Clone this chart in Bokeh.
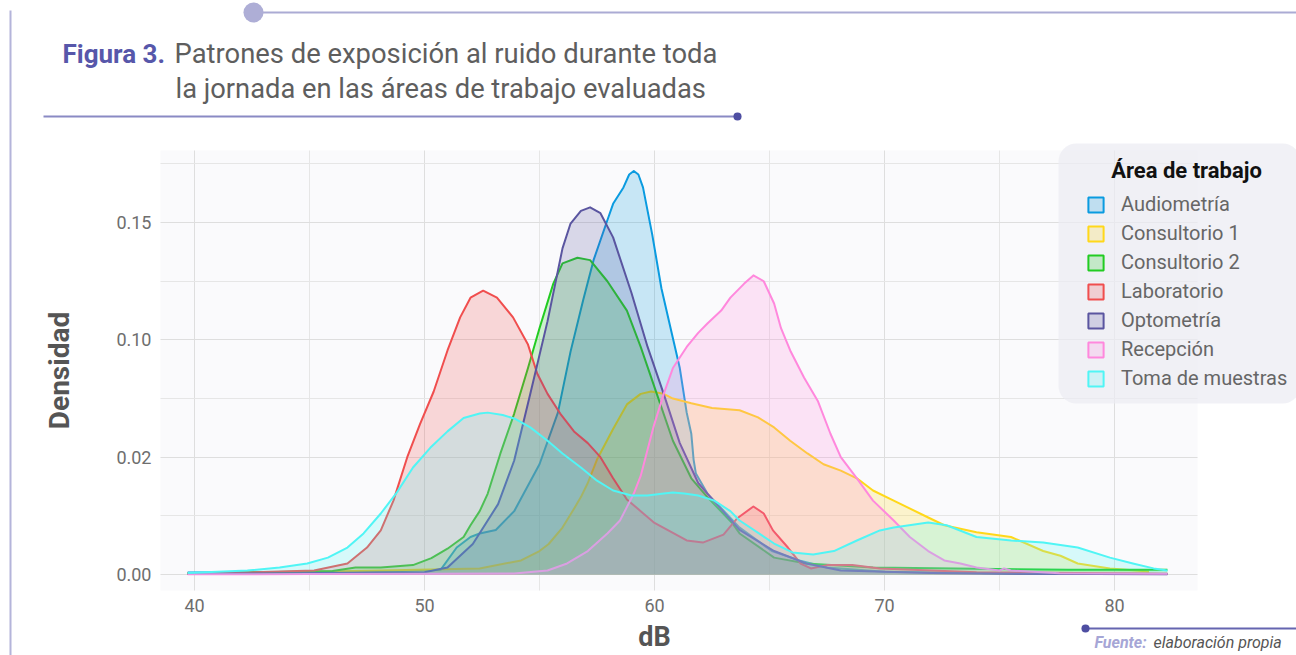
from bokeh.plotting import figure
from bokeh.models import (Range1d, FixedTicker, Legend, LegendItem, Label, Arrow,
                          ColumnDataSource, BoxAnnotation)
from bokeh.embed import file_html
from bokeh.resources import INLINE

# ---------------- data ----------------
areas = ["Audiometría", "Consultorio 1", "Consultorio 2", "Laboratorio",
         "Optometría", "Recepción", "Toma de muestras"]
line_colors = ["#0A9BE0", "#FFD81A", "#22CC22", "#F04E4E", "#5A55A0", "#FF88DD", "#50F5F5"]

audiometria_db = [39.7, 43.0, 46.0, 49.0, 50.7, 51.4, 52.0, 52.4, 53.1, 53.9, 55.0, 55.8, 56.35,
                  56.9, 57.35, 57.95, 58.2, 58.65, 58.9, 59.1, 59.3, 59.5, 59.9, 60.3, 60.7, 61.1,
                  61.4, 61.6, 61.7, 61.8, 62.3, 63.7, 65.1, 66.3, 67.5, 70.0, 75.0, 82.3]
audiometria_dens = [0.0008, 0.001, 0.0012, 0.0015, 0.002, 0.0115, 0.016, 0.0175, 0.019, 0.027,
                    0.047, 0.069, 0.095, 0.117, 0.134, 0.151, 0.158, 0.165, 0.1705, 0.172, 0.1705,
                    0.165, 0.145, 0.122, 0.105, 0.088, 0.069, 0.060, 0.049, 0.043, 0.0345, 0.020,
                    0.010, 0.006, 0.003, 0.0012, 0.0005, 0.0002]

consultorio1_db = [39.7, 44, 48.1, 52.4, 54.2, 55.0, 55.4, 56.0, 56.5, 56.8, 57.1, 57.5, 58.2, 58.8,
                   59.4, 59.85, 60.4, 60.8, 61.6, 62.5, 63.7, 64.5, 65.2, 65.9, 66.65, 67.35, 68.1,
                   68.8, 69.5, 70.4, 71.9, 72.6, 74.0, 75.5, 76.9, 77.65, 78.4, 79.8, 81.5]
consultorio1_dens = [0.0005, 0.001, 0.0017, 0.0026, 0.006, 0.010, 0.013, 0.020, 0.028, 0.033, 0.039,
                     0.049, 0.062, 0.0725, 0.077, 0.078, 0.077, 0.075, 0.073, 0.071, 0.070, 0.067,
                     0.0627, 0.057, 0.0516, 0.047, 0.0443, 0.041, 0.0358, 0.0315, 0.0243, 0.021,
                     0.018, 0.016, 0.010, 0.008, 0.0047, 0.0026, 0.0013]

consultorio2_db = [39.7, 43, 46, 47.0, 48.1, 49.5, 50.3, 51.0, 51.7, 52.0, 52.4, 52.75, 53.3, 53.9,
                   54.5, 55.0, 55.6, 56.0, 56.65, 57.2, 57.95, 58.8, 59.4, 60.1, 60.8, 61.6, 62.3,
                   63.4, 63.7, 65.2, 66.6, 69.5, 74, 78, 82.3]
consultorio2_dens = [0.0005, 0.001, 0.0015, 0.003, 0.003, 0.004, 0.007, 0.011, 0.016, 0.021, 0.027,
                     0.0345, 0.0516, 0.0686, 0.088, 0.105, 0.124, 0.1326, 0.135, 0.134, 0.125,
                     0.1125, 0.097, 0.077, 0.057, 0.041, 0.033, 0.0217, 0.0175, 0.0072, 0.0047,
                     0.003, 0.0025, 0.002, 0.002]

laboratorio_db = [39.7, 42, 45.2, 46.65, 47.5, 48.1, 48.65, 49.25, 49.8, 50.4, 51.0, 51.55, 52.0,
                  52.55, 53.15, 53.85, 54.5, 54.9, 55.35, 55.9, 56.5, 57.1, 57.65, 58.2, 58.8, 59.4,
                  60.0, 60.6, 61.4, 62.1, 63.0, 63.6, 64.3, 64.75, 65.15, 65.8, 66.35, 66.8, 67.5,
                  68.6, 69.8, 74, 82.3]
laboratorio_dens = [0.0003, 0.0008, 0.0017, 0.0047, 0.0115, 0.0188, 0.0315, 0.050, 0.064, 0.078,
                    0.0955, 0.1096, 0.118, 0.121, 0.118, 0.1096, 0.098, 0.0857, 0.077, 0.0686,
                    0.061, 0.056, 0.050, 0.041, 0.032, 0.027, 0.022, 0.0188, 0.0145, 0.0136, 0.017,
                    0.024, 0.029, 0.026, 0.0188, 0.0115, 0.0047, 0.0026, 0.004, 0.004, 0.0026,
                    0.001, 0.0003]

optometria_db = [39.7, 44, 48, 50, 51.0, 52.1, 53.2, 53.9, 54.6, 55.35, 56.0, 56.35, 56.8, 57.2,
                 57.65, 58.2, 59.0, 59.7, 60.4, 61.1, 61.9, 62.3, 63.7, 65.2, 66.6, 68.1, 72, 76,
                 82.3]
optometria_dens = [0.0003, 0.0005, 0.0008, 0.001, 0.003, 0.013, 0.030, 0.0486, 0.077, 0.108,
                   0.139, 0.1496, 0.155, 0.1565, 0.154, 0.1437, 0.120, 0.097, 0.077, 0.056, 0.039,
                   0.0345, 0.019, 0.010, 0.0047, 0.0017, 0.0006, 0.0003, 0.0001]

recepcion_db = [39.7, 45, 50, 53.9, 55.35, 56.2, 57.1, 57.95, 58.5, 59.1, 59.4, 59.95, 60.4, 60.8,
                61.4, 61.9, 62.3, 62.9, 63.3, 63.9, 64.3, 64.75, 65.2, 65.5, 65.9, 66.5, 67.1,
                67.65, 68.1, 68.8, 69.5, 70.4, 71.1, 71.9, 72.6, 73.3, 74.0, 75.0, 75.2, 75.5,
                77.6, 82.3]
recepcion_dens = [0.0001, 0.0002, 0.0003, 0.0004, 0.0017, 0.0047, 0.010, 0.0175, 0.023, 0.0345,
                  0.042, 0.0627, 0.077, 0.088, 0.097, 0.103, 0.107, 0.1125, 0.118, 0.124, 0.1275,
                  0.125, 0.1155, 0.105, 0.0955, 0.084, 0.074, 0.060, 0.050, 0.041, 0.0315, 0.023,
                  0.016, 0.010, 0.006, 0.0047, 0.003, 0.0017, 0.0026, 0.0017, 0.0005, 0.0003]

toma_db = [39.7, 42.3, 43.7, 44.9, 45.8, 46.65, 47.35, 48.1, 48.8, 49.5, 50.25, 51.0, 51.7, 52.4,
           52.75, 53.4, 53.9, 54.6, 55.35, 56.0, 56.8, 57.5, 58.2, 59.0, 59.7, 60.4, 60.8, 61.3,
           61.9, 62.6, 63.3, 63.7, 65.2, 66.0, 66.9, 67.8, 68.8, 69.8, 70.4, 71.9, 72.7, 74.0,
           75.5, 76.9, 78.4, 79.8, 80.8, 81.7, 82.3]
toma_dens = [0.0006, 0.0017, 0.003, 0.0047, 0.0072, 0.0115, 0.0175, 0.026, 0.035, 0.0456, 0.054,
             0.061, 0.0667, 0.0686, 0.069, 0.068, 0.0665, 0.0627, 0.057, 0.0516, 0.0456, 0.040,
             0.0358, 0.0337, 0.0337, 0.0345, 0.035, 0.0345, 0.0337, 0.0315, 0.027, 0.023, 0.0132,
             0.0094, 0.0085, 0.010, 0.0145, 0.0188, 0.020, 0.0222, 0.021, 0.016, 0.0145, 0.0136,
             0.0115, 0.0072, 0.0047, 0.0026, 0.0017]

x_ticks = [40, 50, 60, 70, 80]
x_minor = [45, 55, 65, 75]
y_ticks = [0.0, 0.05, 0.10, 0.15]
y_tick_labels = ["0.00", "0.02", "0.10", "0.15"]
y_minor = [0.025, 0.075, 0.125, 0.175]

series = [(audiometria_db, audiometria_dens), (consultorio1_db, consultorio1_dens),
          (consultorio2_db, consultorio2_dens), (laboratorio_db, laboratorio_dens),
          (optometria_db, optometria_dens), (recepcion_db, recepcion_dens),
          (toma_db, toma_dens)]

# ---------------- figure ----------------
FONT = "Roboto"
W, H = 1296, 655


# canvas-pixel -> data helpers (panel spans x 160..1197, y 150..590)
def X(px):
    return 40 + (px - 194) / 23.0


def Y(py):
    return (574 - py) / 2346.0


PL, PR, PT, PB = 160, 1197, 150, 590

p = figure(width=W, height=H, output_backend="svg", toolbar_location=None,
           x_range=Range1d(X(0), X(W)), y_range=Range1d(Y(H), Y(0)),
           min_border_left=0, min_border_right=0, min_border_top=0, min_border_bottom=0,
           background_fill_color="#FFFFFF", border_fill_color="#FFFFFF",
           outline_line_color=None)

# plot panel background
p.add_layout(BoxAnnotation(left=X(PL), right=X(PR), top=Y(PT), bottom=Y(PB),
                           fill_color="#FAFAFC", fill_alpha=1.0, line_color=None, level="image"))

p.xaxis.ticker = FixedTicker(ticks=x_ticks, minor_ticks=x_minor)
p.yaxis.ticker = FixedTicker(ticks=y_ticks, minor_ticks=y_minor)
p.yaxis.major_label_overrides = {t: lab for t, lab in zip(y_ticks, y_tick_labels)}
p.xaxis.fixed_location = Y(PB)
p.yaxis.fixed_location = X(PL)
p.xaxis.bounds = (x_ticks[0], x_ticks[-1])
p.yaxis.bounds = (Y(PB), Y(PT))

for ax in (p.xaxis, p.yaxis):
    ax.axis_line_color = None
    ax.major_tick_line_color = None
    ax.minor_tick_line_color = None
    ax.major_label_text_font = FONT
    ax.major_label_text_font_size = "18px"
    ax.major_label_text_color = "#6E6E6E"
    ax.axis_label_text_font = FONT
    ax.axis_label_text_font_style = "bold"
    ax.axis_label_text_color = "#555555"

p.xaxis.axis_label = "dB"
p.xaxis.axis_label_text_font_size = "27px"
p.xaxis.major_label_standoff = 2
p.xaxis.axis_label_standoff = 6
p.yaxis.axis_label = "Densidad"
p.yaxis.axis_label_text_font_size = "28px"
p.yaxis.major_label_standoff = 3
p.yaxis.axis_label_standoff = 37

grid_major = "#DEDEDE"
grid_minor = "#E6E6E6"
try:
    p.xgrid.cross_bounds = (Y(PB), Y(PT))
    p.ygrid.cross_bounds = (X(PL), X(PR))
    p.xgrid.grid_line_color = grid_major
    p.ygrid.grid_line_color = grid_major
    p.xgrid.minor_grid_line_color = grid_minor
    p.ygrid.minor_grid_line_color = grid_minor
except AttributeError:
    p.xgrid.visible = False
    p.ygrid.visible = False
    gx = x_ticks + x_minor
    p.segment(x0=gx, x1=gx, y0=[Y(PB)] * len(gx), y1=[Y(PT)] * len(gx),
              line_color=[grid_major] * len(x_ticks) + [grid_minor] * len(x_minor),
              line_width=1, level="underlay")
    gy = y_ticks + y_minor
    p.segment(x0=[X(PL)] * len(gy), x1=[X(PR)] * len(gy), y0=gy, y1=gy,
              line_color=[grid_major] * len(y_ticks) + [grid_minor] * len(y_minor),
              line_width=1, level="underlay")

items = []
for name, col, (xs, ys) in zip(areas, line_colors, series):
    src = ColumnDataSource(dict(x=list(xs) + [xs[-1], xs[0]], y=list(ys) + [0.0, 0.0]))
    # filled area (no outline) + upper outline only, as in a density plot
    p.patch(x="x", y="y", source=src, fill_color=col, fill_alpha=0.21, line_color=None)
    p.line(x=list(xs), y=list(ys), line_color=col, line_width=2, line_join="round")
    # hidden renderer used only for the legend key (filled square with border)
    key = p.patch(x="x", y="y", source=src, fill_color=col, fill_alpha=0.21,
                  line_color=col, line_width=2, visible=False)
    items.append(LegendItem(label=name, renderers=[key]))

# legend background box (rounded)
box_kw = dict(left=X(1058), right=X(1300), top=Y(143), bottom=Y(403),
              fill_color="#ECECF2", fill_alpha=0.72, line_color=None)
try:
    legend_box = BoxAnnotation(border_radius=18, **box_kw)
except AttributeError:
    legend_box = BoxAnnotation(**box_kw)
p.add_layout(legend_box)

p.add_layout(Label(x=X(1186), y=Y(170), text="Área de trabajo", text_font=FONT,
                   text_font_style="bold", text_font_size="22px", text_color="#111111",
                   text_baseline="middle", text_align="center"))

legend = Legend(items=items, location=(1086, 265),
                label_text_font=FONT, label_text_font_size="20px", label_text_color="#666666",
                label_height=20, glyph_height=19, glyph_width=19, label_standoff=16,
                spacing=5, padding=8, margin=0,
                background_fill_alpha=0.0, border_line_color=None)
p.add_layout(legend)

# ---------------- decorations / texts ----------------
def seg(x0, y0, x1, y1, color, width, cap="butt"):
    p.add_layout(Arrow(start=None, end=None, x_start=X(x0), y_start=Y(y0), x_end=X(x1),
                       y_end=Y(y1), line_color=color, line_width=width, line_cap=cap))


def dot(x0, y0, color, diam):
    seg(x0 - 0.05, y0, x0 + 0.05, y0, color, diam, cap="round")


seg(10, 10, 10, H, "#B4B4DA", 2)
seg(262, 12, W, 12, "#ABABD4", 2)
dot(253, 12, "#AEAED6", 20)
seg(43, 116, 737, 116, "#8A8AC4", 2)
dot(737, 116, "#4E4EA2", 8)
seg(1085, 628, W, 628, "#6565B0", 2)
dot(1085, 628, "#4E4EA2", 8)

p.add_layout(Label(x=X(62), y=Y(53), text="Figura 3.", text_font=FONT,
                   text_font_style="bold", text_font_size="26px", text_color="#5757AA",
                   text_baseline="middle", text_align="left"))
p.add_layout(Label(x=X(174), y=Y(53), text="Patrones de exposición al ruido durante toda",
                   text_font=FONT, text_font_size="27.4px", text_color="#5E5E5E",
                   text_baseline="middle", text_align="left"))
p.add_layout(Label(x=X(175), y=Y(88), text="la jornada en las áreas de trabajo evaluadas",
                   text_font=FONT, text_font_size="27.3px", text_color="#5E5E5E",
                   text_baseline="middle", text_align="left"))
p.add_layout(Label(x=X(1094), y=Y(642), text="Fuente:", text_font=FONT,
                   text_font_style="bold italic", text_font_size="16px", text_color="#A6A6D6",
                   text_baseline="middle", text_align="left"))
p.add_layout(Label(x=X(1153), y=Y(642), text="elaboración propia", text_font=FONT,
                   text_font_style="italic", text_font_size="16px", text_color="#555555",
                   text_baseline="middle", text_align="left"))

open("out.html", "w").write(file_html(p, INLINE))
